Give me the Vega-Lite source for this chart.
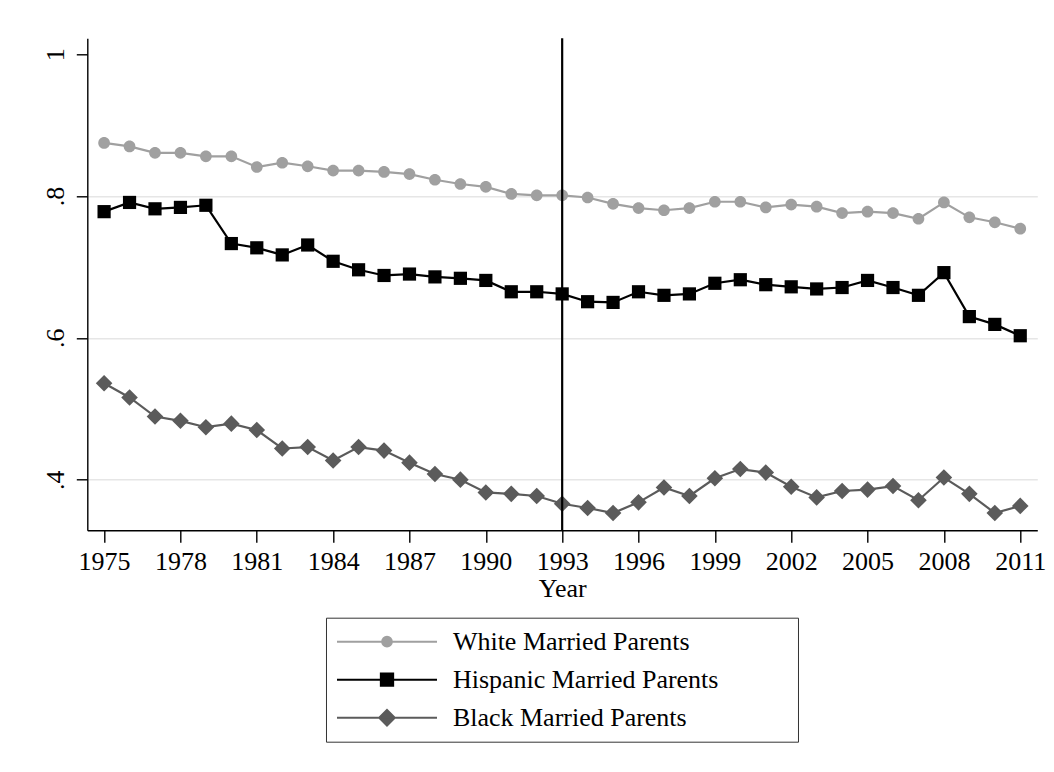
{
  "$schema": "https://vega.github.io/schema/vega-lite/v6.json",
  "width": 950,
  "height": 492,
  "autosize": {"type": "none"},
  "padding": {"left": 87.3, "top": 38.3, "right": 17, "bottom": 242},
  "background": "white",
  "config": {
    "view": {"stroke": null},
    "font": "Liberation Serif",
    "axis": {
      "labelFont": "Liberation Serif",
      "titleFont": "Liberation Serif",
      "labelFontSize": 26,
      "titleFontSize": 26,
      "labelColor": "#000000",
      "titleColor": "#000000",
      "titleFontWeight": "normal",
      "domainColor": "#000000",
      "tickColor": "#000000",
      "domainWidth": 1.4,
      "tickWidth": 1.4
    },
    "legend": {
      "labelFont": "Liberation Serif",
      "labelFontSize": 26,
      "labelColor": "#000000",
      "labelLimit": 600,
      "symbolOpacity": 1
    }
  },
  "data": {
    "values": [
      {"Year": 1975, "White Married Parents": 0.875, "Hispanic Married Parents": 0.778, "Black Married Parents": 0.536},
      {"Year": 1976, "White Married Parents": 0.870, "Hispanic Married Parents": 0.791, "Black Married Parents": 0.516},
      {"Year": 1977, "White Married Parents": 0.861, "Hispanic Married Parents": 0.782, "Black Married Parents": 0.489},
      {"Year": 1978, "White Married Parents": 0.861, "Hispanic Married Parents": 0.784, "Black Married Parents": 0.483},
      {"Year": 1979, "White Married Parents": 0.856, "Hispanic Married Parents": 0.787, "Black Married Parents": 0.474},
      {"Year": 1980, "White Married Parents": 0.856, "Hispanic Married Parents": 0.733, "Black Married Parents": 0.479},
      {"Year": 1981, "White Married Parents": 0.841, "Hispanic Married Parents": 0.727, "Black Married Parents": 0.470},
      {"Year": 1982, "White Married Parents": 0.847, "Hispanic Married Parents": 0.717, "Black Married Parents": 0.444},
      {"Year": 1983, "White Married Parents": 0.842, "Hispanic Married Parents": 0.731, "Black Married Parents": 0.446},
      {"Year": 1984, "White Married Parents": 0.836, "Hispanic Married Parents": 0.708, "Black Married Parents": 0.427},
      {"Year": 1985, "White Married Parents": 0.836, "Hispanic Married Parents": 0.696, "Black Married Parents": 0.446},
      {"Year": 1986, "White Married Parents": 0.834, "Hispanic Married Parents": 0.688, "Black Married Parents": 0.441},
      {"Year": 1987, "White Married Parents": 0.831, "Hispanic Married Parents": 0.690, "Black Married Parents": 0.424},
      {"Year": 1988, "White Married Parents": 0.823, "Hispanic Married Parents": 0.686, "Black Married Parents": 0.408},
      {"Year": 1989, "White Married Parents": 0.817, "Hispanic Married Parents": 0.684, "Black Married Parents": 0.400},
      {"Year": 1990, "White Married Parents": 0.813, "Hispanic Married Parents": 0.681, "Black Married Parents": 0.382},
      {"Year": 1991, "White Married Parents": 0.803, "Hispanic Married Parents": 0.665, "Black Married Parents": 0.380},
      {"Year": 1992, "White Married Parents": 0.801, "Hispanic Married Parents": 0.665, "Black Married Parents": 0.377},
      {"Year": 1993, "White Married Parents": 0.801, "Hispanic Married Parents": 0.662, "Black Married Parents": 0.366},
      {"Year": 1994, "White Married Parents": 0.798, "Hispanic Married Parents": 0.651, "Black Married Parents": 0.360},
      {"Year": 1995, "White Married Parents": 0.789, "Hispanic Married Parents": 0.650, "Black Married Parents": 0.353},
      {"Year": 1996, "White Married Parents": 0.783, "Hispanic Married Parents": 0.665, "Black Married Parents": 0.368},
      {"Year": 1997, "White Married Parents": 0.780, "Hispanic Married Parents": 0.660, "Black Married Parents": 0.389},
      {"Year": 1998, "White Married Parents": 0.783, "Hispanic Married Parents": 0.662, "Black Married Parents": 0.377},
      {"Year": 1999, "White Married Parents": 0.792, "Hispanic Married Parents": 0.677, "Black Married Parents": 0.402},
      {"Year": 2000, "White Married Parents": 0.792, "Hispanic Married Parents": 0.682, "Black Married Parents": 0.415},
      {"Year": 2001, "White Married Parents": 0.784, "Hispanic Married Parents": 0.675, "Black Married Parents": 0.410},
      {"Year": 2002, "White Married Parents": 0.788, "Hispanic Married Parents": 0.672, "Black Married Parents": 0.390},
      {"Year": 2003, "White Married Parents": 0.785, "Hispanic Married Parents": 0.669, "Black Married Parents": 0.375},
      {"Year": 2004, "White Married Parents": 0.776, "Hispanic Married Parents": 0.671, "Black Married Parents": 0.384},
      {"Year": 2005, "White Married Parents": 0.778, "Hispanic Married Parents": 0.681, "Black Married Parents": 0.386},
      {"Year": 2006, "White Married Parents": 0.776, "Hispanic Married Parents": 0.671, "Black Married Parents": 0.391},
      {"Year": 2007, "White Married Parents": 0.768, "Hispanic Married Parents": 0.660, "Black Married Parents": 0.371},
      {"Year": 2008, "White Married Parents": 0.791, "Hispanic Married Parents": 0.692, "Black Married Parents": 0.403},
      {"Year": 2009, "White Married Parents": 0.770, "Hispanic Married Parents": 0.630, "Black Married Parents": 0.380},
      {"Year": 2010, "White Married Parents": 0.763, "Hispanic Married Parents": 0.619, "Black Married Parents": 0.353},
      {"Year": 2011, "White Married Parents": 0.754, "Hispanic Married Parents": 0.603, "Black Married Parents": 0.363}
    ]
  },
  "transform": [
    {"fold": ["White Married Parents", "Hispanic Married Parents", "Black Married Parents"], "as": ["series", "value"]}
  ],
  "layer": [
    {
      "mark": {"type": "line", "strokeWidth": 2.2},
      "encoding": {
        "x": {
          "field": "Year", "type": "quantitative",
          "scale": {"domain": [1974.34, 2011.67], "nice": false, "zero": false},
          "axis": {
            "title": "Year",
            "values": [1975, 1978, 1981, 1984, 1987, 1990, 1993, 1996, 1999, 2002, 2005, 2008, 2011],
            "format": "d",
            "grid": false,
            "tickSize": 12,
            "labelPadding": 6,
            "titlePadding": 1,
            "labelFlush": false,
            "labelOverlap": false
          }
        },
        "y": {
          "field": "value", "type": "quantitative",
          "scale": {"domain": [0.3286, 1.0225], "nice": false, "zero": false},
          "axis": {
            "title": null,
            "values": [0.4, 0.6, 0.8, 1],
            "labelExpr": "datum.value == 1 ? '1' : '.' + round(datum.value * 10)",
            "labelAngle": 270,
            "labelAlign": "center",
            "labelBaseline": "bottom",
            "labelPadding": 8,
            "tickSize": 11,
            "grid": true,
            "gridColor": "#e6e6e6",
            "gridWidth": 1.6,
            "gridOpacity": {"condition": {"test": "datum.value == 1", "value": 0}, "value": 1},
            "labelFlush": false,
            "labelOverlap": false
          }
        },
        "stroke": {
          "field": "series", "type": "nominal",
          "scale": {
            "domain": ["White Married Parents", "Hispanic Married Parents", "Black Married Parents"],
            "range": ["#a0a0a0", "#000000", "#5b5b5b"]
          },
          "legend": {
            "title": null,
            "orient": "none",
            "legendX": 238.7,
            "legendY": 579.4,
            "direction": "vertical",
            "strokeColor": "#333333",
            "fillColor": "#ffffff",
            "padding": 11,
            "symbolSize": 100,
            "symbolStrokeWidth": 2,
            "symbolOpacity": 1,
            "labelOffset": 89.9,
            "rowPadding": 12,
            "labelBaseline": "middle"
          }
        },
        "detail": {"field": "series"}
      }
    },
    {
      "mark": {"type": "point", "opacity": 0},
      "encoding": {
        "x": {"field": "Year", "type": "quantitative"},
        "y": {"field": "value", "type": "quantitative"},
        "fill": {
          "field": "series", "type": "nominal",
          "scale": {
            "domain": ["White Married Parents", "Hispanic Married Parents", "Black Married Parents"],
            "range": ["#a0a0a0", "#000000", "#5b5b5b"]
          },
          "legend": {
            "title": null,
            "orient": "none",
            "legendX": 238.7,
            "legendY": 579.4,
            "direction": "vertical",
            "strokeColor": "#333333",
            "fillColor": "#ffffff",
            "padding": 11,
            "symbolSize": 100,
            "symbolStrokeWidth": 2,
            "symbolOpacity": 1,
            "labelOffset": 89.9,
            "rowPadding": 12,
            "labelBaseline": "middle"
          }
        },
        "stroke": {"field": "series", "type": "nominal"},
        "shape": {
          "field": "series", "type": "nominal",
          "scale": {
            "domain": ["White Married Parents", "Hispanic Married Parents", "Black Married Parents"],
            "range": [
              "M-2.6,0L17.4,0M8.37,0A0.97,0.97 0 1 1 6.43,0A0.97,0.97 0 1 1 8.37,0ZM86.5,0",
              "M-2.6,0L17.4,0M6.17,-1.23L8.63,-1.23L8.63,1.23L6.17,1.23ZM86.5,0",
              "M-2.6,0L17.4,0M5.84,0L7.4,-1.56L8.96,0L7.4,1.56ZM86.5,0"
            ]
          },
          "legend": {
            "title": null,
            "orient": "none",
            "legendX": 238.7,
            "legendY": 579.4,
            "direction": "vertical",
            "strokeColor": "#333333",
            "fillColor": "#ffffff",
            "padding": 11,
            "symbolSize": 100,
            "symbolStrokeWidth": 2,
            "symbolOpacity": 1,
            "labelOffset": 89.9,
            "rowPadding": 12,
            "labelBaseline": "middle"
          }
        }
      }
    },
    {
      "transform": [{"filter": "datum.series === 'White Married Parents'"}],
      "mark": {"type": "point", "filled": true, "opacity": 1, "strokeWidth": 0, "size": 100, "color": "#a0a0a0",
               "shape": "M1.17,0A1.17,1.17 0 1 1 -1.17,0A1.17,1.17 0 1 1 1.17,0Z"},
      "encoding": {
        "x": {"field": "Year", "type": "quantitative"},
        "y": {"field": "value", "type": "quantitative"}
      }
    },
    {
      "transform": [{"filter": "datum.series === 'Hispanic Married Parents'"}],
      "mark": {"type": "point", "filled": true, "opacity": 1, "strokeWidth": 0, "size": 100, "color": "#000000",
               "shape": "M-1.32,-1.32L1.32,-1.32L1.32,1.32L-1.32,1.32Z"},
      "encoding": {
        "x": {"field": "Year", "type": "quantitative"},
        "y": {"field": "value", "type": "quantitative"}
      }
    },
    {
      "transform": [{"filter": "datum.series === 'Black Married Parents'"}],
      "mark": {"type": "point", "filled": true, "opacity": 1, "strokeWidth": 0, "size": 100, "color": "#5b5b5b",
               "shape": "M-1.66,0L0,-1.66L1.66,0L0,1.66Z"},
      "encoding": {
        "x": {"field": "Year", "type": "quantitative"},
        "y": {"field": "value", "type": "quantitative"}
      }
    },
    {
      "data": {"values": [{"Year": 1993}]},
      "mark": {"type": "rule", "color": "#000000", "strokeWidth": 2.2},
      "encoding": {
        "x": {"field": "Year", "type": "quantitative"}
      }
    }
  ]
}
